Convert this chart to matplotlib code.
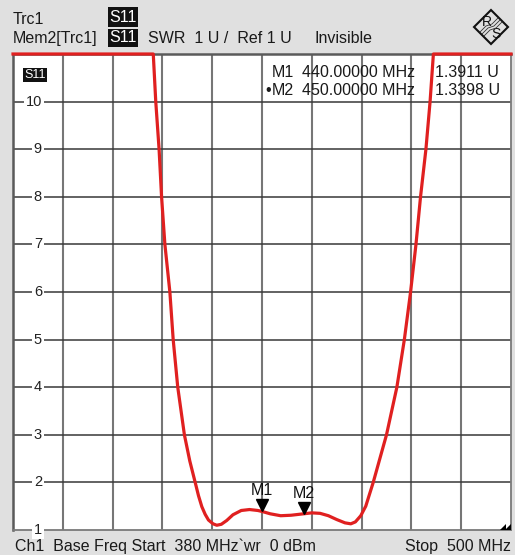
import matplotlib
matplotlib.use("Agg")
import matplotlib.pyplot as plt
from matplotlib.patches import Polygon, Rectangle
from matplotlib.transforms import blended_transform_factory, offset_copy

# ---- data ----
freq_mhz = [380, 413.8, 414.4, 415.2, 415.8, 416.6, 417.8, 418.6, 419.7, 421.3,
            422.6, 423.9, 424.7, 425.5, 426.3, 427.1, 428.2, 429.1, 430.2, 431.5,
            433.0, 435.0, 437.0, 439.0, 440.0, 442.0, 444.5, 447.0, 450.0, 452.0,
            454.0, 456.0, 458.0, 460.0, 461.4, 462.5, 463.8, 465.0, 466.8, 468.4,
            470.0, 472.5, 474.3, 475.8, 477.1, 478.2, 479.5, 480.5, 481.3, 500]
swr = [11, 11, 10, 9, 8, 7, 6, 5, 4, 3,
       2.45, 2, 1.72, 1.49, 1.33, 1.21, 1.13, 1.10, 1.12, 1.2,
       1.32, 1.41, 1.43, 1.41, 1.39, 1.34, 1.30, 1.31, 1.34, 1.36,
       1.35, 1.30, 1.22, 1.15, 1.13, 1.17, 1.3, 1.5, 2, 2.5,
       3, 4, 5, 6, 7, 8, 9, 10, 11, 11]
marker_names = ["M1", "M2"]
marker_freq = [440.0, 450.0]
marker_val = [1.3911, 1.3398]
y_tick_vals = [1, 2, 3, 4, 5, 6, 7, 8, 9, 10]
y_tick_labels = ["1", "2", "3", "4", "5", "6", "7", "8", "9", "10"]
x_grid = [380, 392, 404, 416, 428, 440, 452, 464, 476, 488, 500]

W, H = 515, 555
BG = "#E0E0E0"
RED = "#E02020"
FONT = "Liberation Sans"
FS = 11.5
plt.rcParams["font.family"] = [FONT, "DejaVu Sans"]

fig = plt.figure(figsize=(W / 100, H / 100), dpi=100, facecolor=BG)
ax = fig.add_axes([13 / W, 25 / H, 498 / W, 476 / H])
ax.set_facecolor("white")
ax.set_xlim(380, 500)
ax.set_ylim(1, 11)
ax.set_xticks([])
ax.set_yticks([])
for s in ["left", "top"]:
    ax.spines[s].set_color("#5a5a5a")
    ax.spines[s].set_linewidth(1.8)
for s in ["right", "bottom"]:
    ax.spines[s].set_color("#7a7a7a")
    ax.spines[s].set_linewidth(1.3)

# grid
for xv in x_grid[1:-1]:
    ax.axvline(xv, color="#767676", lw=1.5, zorder=1)
for yv in range(2, 11):
    ax.axhline(yv, color="#383838", lw=1.1, zorder=1)

# y labels inside the plot
bt = blended_transform_factory(ax.transAxes, ax.transData)
for v, lab in zip(y_tick_vals, y_tick_labels):
    ax.text((42 - 13) / 498, v, lab, transform=bt, ha="right", va="center",
            fontsize=10.5, color="#222222", zorder=3,
            bbox=dict(facecolor="white", edgecolor="none", pad=1.5))

# trace
ax.plot(freq_mhz, swr, color=RED, lw=2.3, zorder=5, clip_on=False,
        solid_joinstyle="round")

# markers
for name, f, v in zip(marker_names, marker_freq, marker_val):
    tr = offset_copy(ax.transData, fig=fig, x=0, y=6, units="dots")
    ax.plot([f], [v], marker="v", color="black", markersize=9, transform=tr,
            zorder=6, clip_on=False)
    tr2 = offset_copy(ax.transData, fig=fig, x=0, y=13, units="dots")
    ax.text(f, v, name, transform=tr2, ha="center", va="bottom",
            fontsize=FS, color="#111111", zorder=6)

# marker table
def figtxt(x, y, s, **kw):
    fig.text(x / W, 1 - y / H, s, **kw)

txt_kw = dict(fontsize=FS, color="#1a1a1a", va="baseline")
for i, (name, f, v) in enumerate(zip(marker_names, marker_freq, marker_val)):
    yb = 77 + i * 18
    if i == 1:
        figtxt(265, yb, "\u2022", ha="left", **txt_kw)
    figtxt(272, yb, name, ha="left", **txt_kw)
    figtxt(302, yb, f"{f:.5f} MHz", ha="left", **txt_kw)
    figtxt(435, yb, f"{v:.4f} U", ha="left", **txt_kw)

# header
figtxt(13, 24, "Trc1", ha="left", **txt_kw)
figtxt(13, 43, "Mem2[Trc1]", ha="left", **txt_kw)
figtxt(148, 43, "SWR  1 U /  Ref 1 U", ha="left", **txt_kw)
figtxt(315, 43, "Invisible", ha="left", **txt_kw)

def black_box(x0, y0, x1, y1, label, fs):
    fig.patches.append(Rectangle((x0 / W, 1 - y1 / H), (x1 - x0) / W, (y1 - y0) / H,
                                 transform=fig.transFigure, facecolor="#111111",
                                 edgecolor="none", zorder=10))
    fig.text((x0 + x1) / 2 / W, 1 - (y0 + y1) / 2 / H, label, ha="center",
             va="center", fontsize=fs, color="white", zorder=11)

black_box(108, 7, 138, 27, "S11", FS)
black_box(108, 29, 138, 47, "S11", FS)
black_box(23, 68, 47, 82, "S11", 9)

# footer
figtxt(15, 551, "Ch1  Base Freq Start  380 MHz`wr  0 dBm", ha="left", **txt_kw)
figtxt(511, 551, "Stop  500 MHz", ha="right", **txt_kw)

# corner triangles
for pts in ([(500, 530), (506, 530), (506, 524)], [(505, 530), (511, 530), (511, 524)]):
    fig.patches.append(Polygon([(x / W, 1 - y / H) for x, y in pts], closed=True,
                               transform=fig.transFigure, facecolor="black",
                               edgecolor="none", zorder=12))

# R&S logo (approximation)
cx, cy, r = 491, 27, 17
dia = [(cx - r, cy), (cx, cy - r), (cx + r, cy), (cx, cy + r)]
fig.patches.append(Polygon([(x / W, 1 - y / H) for x, y in dia], closed=True,
                           transform=fig.transFigure, facecolor="none",
                           edgecolor="#111111", lw=1.5, zorder=12))
figtxt(487, 26, "R", ha="center", fontsize=10, color="#111111", va="baseline")
figtxt(496, 38, "S", ha="center", fontsize=10, color="#111111", va="baseline")
for d in (-2, 0, 2):
    xs = [cx - 9 + d, cx - 3 + d, cx + 3 + d, cx + 9 + d]
    ys = [cy + 7 + d, cy + 1 + d, cy - 1 + d, cy - 7 + d]
    fig.lines.append(plt.Line2D([x / W for x in xs], [1 - y / H for y in ys],
                                transform=fig.transFigure, color="#333333",
                                lw=0.6, zorder=13))

fig.savefig("out.png", dpi=100, facecolor=BG)
